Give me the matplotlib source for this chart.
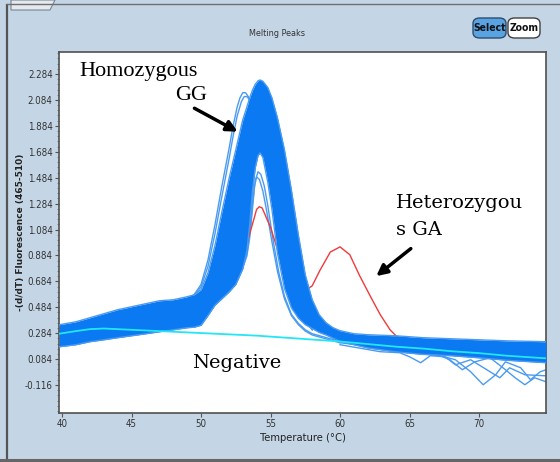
import matplotlib
matplotlib.use("Agg")
import matplotlib.pyplot as plt
from matplotlib.patches import FancyBboxPatch, Polygon
from matplotlib.lines import Line2D
from matplotlib import font_manager
import numpy as np

# ---------------- data (temperature in °C, -(d/dT) fluorescence) ----------------
# dense cluster of homozygous GG melting curves: upper and lower envelopes
band_t = [39.8, 41, 42, 43, 44, 45, 46, 47, 48, 49, 49.5, 50, 50.5, 51, 51.5, 52, 52.5,
          53, 53.3, 53.5, 53.7, 53.9, 54.1, 54.25, 54.45, 54.8, 55.1, 55.5, 56, 56.5,
          57, 57.5, 58, 58.5, 59, 59.5, 60, 61, 62, 64, 66, 68, 70, 72, 74.82]
band_upper = [0.349, 0.372, 0.403, 0.434, 0.465, 0.488, 0.511, 0.534, 0.542, 0.565, 0.58,
              0.62, 0.75, 0.96, 1.22, 1.47, 1.70, 1.93, 2.03, 2.10, 2.16, 2.205, 2.232,
              2.238, 2.228, 2.18, 2.10, 1.945, 1.70, 1.39, 1.043, 0.734, 0.542, 0.426,
              0.364, 0.326, 0.303, 0.280, 0.272, 0.264, 0.249, 0.241, 0.233, 0.225, 0.218]
band_lower = [0.179, 0.195, 0.218, 0.233, 0.249, 0.264, 0.279, 0.295, 0.310, 0.326, 0.33,
              0.345, 0.42, 0.50, 0.55, 0.60, 0.66, 0.78, 0.92, 1.12, 1.38, 1.56, 1.655,
              1.675, 1.64, 1.45, 1.24, 0.90, 0.63, 0.48, 0.40, 0.35, 0.32, 0.29, 0.27,
              0.245, 0.22, 0.195, 0.17, 0.14, 0.12, 0.11, 0.094, 0.075, 0.056]

# GG curves peaking early (left of the cluster)
early1_t = [48, 49, 49.5, 50, 50.5, 51, 51.5, 52, 52.3, 52.6, 52.8, 53.0, 53.2, 53.4,
            53.8, 54.2, 54.6, 55, 55.5, 56, 56.5, 57, 58]
early1_v = [0.52, 0.55, 0.58, 0.66, 0.85, 1.12, 1.42, 1.70, 1.88, 2.03, 2.10, 2.14,
            2.14, 2.11, 1.98, 1.90, 1.78, 1.62, 1.30, 0.95, 0.65, 0.45, 0.31]
early2_t = [49.5, 50, 50.5, 51, 51.5, 52, 52.3, 52.6, 52.9, 53.1, 53.3, 53.6, 54, 54.5,
            55, 55.5, 56, 57, 58]
early2_v = [0.58, 0.64, 0.80, 1.05, 1.34, 1.62, 1.80, 1.96, 2.07, 2.11, 2.11, 2.07,
            1.96, 1.85, 1.65, 1.30, 0.95, 0.45, 0.31]

# lower GG peaks inside the cluster
innerb_t = [52.5, 53.0, 53.3, 53.5, 53.7, 53.9, 54.1, 54.3, 54.55, 54.8, 55.2, 55.6,
            56.0, 56.5, 57, 57.5, 58, 59, 60]
innerb_v = [0.68, 0.80, 0.90, 1.05, 1.28, 1.46, 1.53, 1.51, 1.42, 1.27, 0.99, 0.75,
            0.57, 0.43, 0.36, 0.31, 0.28, 0.25, 0.22]
innerc_t = [52.5, 53.0, 53.3, 53.5, 53.7, 53.85, 54.0, 54.2, 54.45, 54.7, 55.1, 55.5,
            56.0, 56.5, 57, 57.5, 58, 59, 60]
innerc_v = [0.68, 0.79, 0.88, 1.02, 1.24, 1.42, 1.49, 1.47, 1.38, 1.24, 0.99, 0.76,
            0.55, 0.42, 0.35, 0.30, 0.27, 0.24, 0.21]

# heterozygous GA sample (two melting peaks)
het_t = [39.8, 45, 48, 50, 51, 52, 52.5, 53, 53.5, 54, 54.2, 54.4, 55, 55.5, 56, 56.5,
         57, 57.6, 58, 58.56, 59.3, 60, 60.7, 61.4, 62.2, 62.9, 63.6, 64.1, 66, 70, 74.82]
het_v = [0.30, 0.42, 0.47, 0.50, 0.56, 0.64, 0.72, 0.85, 1.05, 1.24, 1.26, 1.25, 1.10,
         0.93, 0.82, 0.74, 0.68, 0.62, 0.65, 0.77, 0.91, 0.95, 0.89, 0.73, 0.565, 0.426,
         0.31, 0.256, 0.22, 0.18, 0.15]

# negative control
neg_t = [39.8, 41, 42, 43, 44, 45, 47, 49, 50, 52, 54, 56, 58, 60, 62, 64, 66, 68, 70,
         72, 74.82]
neg_v = [0.28, 0.30, 0.315, 0.32, 0.315, 0.31, 0.30, 0.29, 0.285, 0.275, 0.265, 0.25,
         0.235, 0.22, 0.20, 0.18, 0.165, 0.145, 0.13, 0.11, 0.09]

# noisy high-temperature tails
tail1_t = [60.0, 62.9, 64.3, 65.0, 65.8, 66.5, 67.5, 68.3, 69.4, 70.3, 71.2, 71.9, 73.0,
           73.7, 74.4, 74.82]
tail1_v = [0.195, 0.141, 0.133, 0.102, 0.056, 0.110, 0.102, 0.079, -0.014, -0.114,
           -0.037, 0.063, 0.017, -0.075, -0.014, 0.002]
tail2_t = [60.0, 64.3, 66.5, 67.9, 68.8, 69.7, 70.8, 71.9, 72.6, 73.3, 74.0, 74.82]
tail2_v = [0.210, 0.156, 0.141, 0.079, 0.002, 0.063, 0.094, 0.002, -0.060, -0.114,
           -0.060, -0.091]
tail3_t = [60.0, 65.8, 67.2, 68.3, 69.4, 70.8, 71.5, 72.2, 73.3, 74.82]
tail3_v = [0.218, 0.141, 0.133, 0.040, 0.079, -0.014, -0.060, 0.017, -0.037, -0.045]

x_ticks = [40, 45, 50, 55, 60, 65, 70]
y_ticks = [2.284, 2.084, 1.884, 1.684, 1.484, 1.284, 1.084, 0.884, 0.684, 0.484,
           0.284, 0.084, -0.116]

# ---------------- styling ----------------
W, H = 560, 462
BG = "#c4d6e6"
DENSE = "#0b79f1"
LIGHT = "#4a9bf0"

# a narrow UI font: use a condensed face when one is installed
_names = {f.name for f in font_manager.fontManager.ttflist}
if "Liberation Sans Narrow" in _names:
    NARROW = dict(family="Liberation Sans Narrow")
else:
    NARROW = dict(family="DejaVu Sans", stretch="condensed")


def fx(x):
    return x / W


def fy(y):
    return 1 - y / H


fig = plt.figure(figsize=(W / 100, H / 100), dpi=100, facecolor=BG)

# window frame
fig.add_artist(Line2D([fx(7), fx(7)], [fy(5), fy(459)], color="#555555", lw=1.6))
fig.add_artist(Line2D([0, 1], [fy(459.5), fy(459.5)], color="#666666", lw=2.2))
fig.add_artist(Line2D([fx(7), 1], [fy(4), fy(4)], color="#6f6f6f", lw=1.0))
fig.add_artist(Polygon([[fx(11), fy(0)], [fx(11), fy(10)], [fx(50), fy(10)],
                        [fx(55), fy(0)]], closed=True, facecolor="#e4eaf0",
                       edgecolor="#7a8590", lw=0.8))

# title and buttons
fig.text(fx(277), fy(33), "Melting Peaks", ha="center", va="center", fontsize=6.5,
         color="#333333", **NARROW)
fig.add_artist(FancyBboxPatch((fx(473), fy(38)), fx(33), 20 / H,
                              boxstyle="round,pad=0,rounding_size=0.012",
                              facecolor="#5aa3e3", edgecolor="#2d4d70", lw=1.0,
                              transform=fig.transFigure))
fig.add_artist(FancyBboxPatch((fx(508), fy(38)), fx(32), 20 / H,
                              boxstyle="round,pad=0,rounding_size=0.012",
                              facecolor="white", edgecolor="#404040", lw=1.0,
                              transform=fig.transFigure))
fig.text(fx(489.5), fy(28), "Select", ha="center", va="center", fontsize=7.5,
         weight="bold", color="#111111", **NARROW)
fig.text(fx(524), fy(28), "Zoom", ha="center", va="center", fontsize=7.5,
         weight="bold", color="#111111", **NARROW)

ax = fig.add_axes([fx(59), fy(413), (546 - 59) / W, (413 - 52) / H])
ax.set_facecolor("white")

# curves under the dense cluster
for t, v in [(innerb_t, innerb_v), (innerc_t, innerc_v)]:
    ax.plot(t, v, color=LIGHT, lw=1.0, zorder=2)
for t, v in [(early1_t, early1_v), (early2_t, early2_v)]:
    ax.plot(t, v, color=LIGHT, lw=1.0, zorder=2)
for t, v in [(tail1_t, tail1_v), (tail2_t, tail2_v), (tail3_t, tail3_v)]:
    ax.plot(t, v, color=LIGHT, lw=1.0, zorder=2)
ax.plot(het_t, het_v, color="#f03a3a", lw=1.0, zorder=2)

# dense cluster
ax.fill_between(band_t, band_lower, band_upper, color=DENSE, lw=0, zorder=3)
ax.plot(band_t, band_upper, color=LIGHT, lw=1.0, zorder=3.5)
ax.plot(band_t, band_lower, color=LIGHT, lw=1.0, zorder=3.5)

ax.plot(neg_t, neg_v, color="#22e6f5", lw=1.3, zorder=5)

ax.set_xlim(39.78, 74.82)
ax.set_ylim(-0.332, 2.454)
ax.set_xticks(x_ticks)
ax.set_xticklabels([str(t) for t in x_ticks])
ax.set_yticks(y_ticks)
ax.set_yticklabels([f"{t:.3f}" for t in y_ticks])
ax.set_yticks(list(np.arange(-0.316, 2.45, 0.04)), minor=True)
ax.tick_params(axis="both", which="major", direction="out", length=3, width=0.8,
               color="#555555", labelsize=7, labelcolor="#333333", pad=1.5)
ax.tick_params(axis="y", which="minor", direction="out", length=1.5, width=0.6,
               color="#777777")
for lab in ax.get_xticklabels() + ax.get_yticklabels():
    lab.set_fontproperties(font_manager.FontProperties(size=7, **NARROW))
for s in ax.spines.values():
    s.set_color("#505050")
    s.set_linewidth(1.2)

ax.set_xlabel("Temperature (°C)", fontsize=8, color="#222222", labelpad=3, **NARROW)
fig.text(fx(21), fy(232), "-(d/dT) Fluorescence (465-510)", rotation=90,
         ha="center", va="center", fontsize=6.5, weight="bold", color="#222222")

# annotations
ax.text(41.22, 2.269, "Homozygous", family="Liberation Serif", fontsize=16,
        va="baseline", zorder=6)
ax.text(48.13, 2.084, "GG", family="Liberation Serif", fontsize=16, va="baseline",
        zorder=6)
ax.annotate("", xy=(52.81, 1.829), xytext=(49.35, 2.03),
            arrowprops=dict(arrowstyle="-|>", color="black", lw=2.5,
                            mutation_scale=16), zorder=6)
ax.text(64.03, 1.251, "Heterozygou", family="DejaVu Serif", fontsize=14,
        va="baseline", zorder=6)
ax.text(64.03, 1.043, "s GA", family="DejaVu Serif", fontsize=14, va="baseline",
        zorder=6)
ax.annotate("", xy=(62.45, 0.711), xytext=(65.25, 0.95),
            arrowprops=dict(arrowstyle="-|>", color="black", lw=2.5,
                            mutation_scale=16), zorder=6)
ax.text(49.35, 0.017, "Negative", family="DejaVu Serif", fontsize=14,
        va="baseline", zorder=6)

fig.savefig("out.png", dpi=100, facecolor=BG)
